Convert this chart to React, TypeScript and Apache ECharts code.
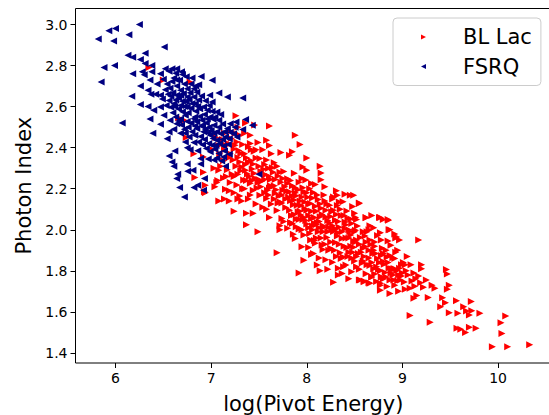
import React, { useEffect, useRef } from "react";
import * as echarts from "echarts";

const xTicks = [6, 7, 8, 9, 10];
const yTicks = [1.4, 1.6, 1.8, 2.0, 2.2, 2.4, 2.6, 2.8, 3.0];

const blLacOutliers = [
  [8.55,2.13],[8.5,2.08],[8.51,2.06],[8.52,2.05],[8.62,2.06],[8.68,2.07],[8.76,2.06],[8.8,2.05],[8.85,2.05],[8.66,2.02],[8.7,2.01],[8.65,2.0],[8.86,2.0],[8.92,1.98],[8.93,1.96],[8.97,1.95],[9.17,1.95],[8.77,1.985],[8.59,1.99],[8.61,1.97],[8.52,1.95],[8.66,1.95],[8.71,1.94],[8.78,1.95],[8.85,1.945],[8.59,1.91],[8.7,1.9],[8.95,1.9],[8.8,1.885],[9.05,1.87],[9.01,1.84],[9.03,1.83],[9.09,1.83],[9.2,1.83],[9.2,1.81],[8.91,1.81],[8.9,1.78],[9.12,1.79],[9.17,1.775],[8.99,1.775],[8.98,1.755],[8.87,1.755],[8.92,1.73],[8.78,1.77],[8.68,1.77],[8.55,1.755],[8.6,1.75],[8.66,1.74],[8.77,1.73],[8.77,1.706],[8.87,1.69],[8.96,1.7],[9.03,1.71],[9.08,1.715],[9.13,1.725],[9.22,1.72],[9.25,1.755],[9.31,1.73],[9.34,1.715],[9.46,1.807],[9.47,1.784],[9.49,1.73],[9.47,1.71],[9.12,1.666],[9.15,1.68],[9.27,1.67],[9.42,1.669],[9.45,1.645],[9.4,1.625],[9.565,1.654],[9.72,1.65],[9.64,1.625],[9.67,1.604],[9.725,1.606],[9.7,1.585],[9.49,1.596],[9.58,1.593],[9.81,1.593],[9.08,1.583],[9.29,1.55],[10.08,1.58],[10.03,1.547],[9.57,1.52],[9.61,1.515],[9.7,1.525],[9.77,1.52],[9.66,1.5],[10.04,1.495],[9.94,1.43],[10.1,1.43],[10.33,1.44],
  [7.61,2.505],[7.88,2.46],[7.93,2.416],[7.58,2.436],[7.61,2.41],[7.41,2.46],[7.73,2.376],[7.85,2.38],[7.82,2.363],[8.0,2.35],[8.14,2.31],[7.96,2.306],[8.0,2.29],[8.15,2.277],[8.15,2.244],[7.95,2.25],[8.05,2.225],[8.09,2.22],[8.19,2.21],[8.31,2.19],[8.4,2.173],[8.455,2.168],[8.49,2.168],[8.32,2.168],[8.55,2.128],[8.28,2.16],[8.62,2.058],[8.77,2.06],[8.855,2.047],[8.87,2.0],[8.94,1.965],[7.08,2.14],[7.14,2.15],[7.19,2.14],[7.28,2.15],[7.32,2.14],[7.41,2.17],[7.24,2.09],[7.37,2.08],[7.44,2.08],[7.37,2.024],[7.49,1.99],[7.61,2.06],[7.58,2.1],[7.74,2.055],[7.69,1.888],[7.72,2.02],[7.72,2.0],[7.88,1.957],[7.95,1.917],[7.97,1.852],[7.92,1.79],[8.11,1.828],[8.14,1.8],[8.28,1.744],[8.37,1.787],[8.56,1.755],[8.6,1.747],[8.65,1.742],[8.77,1.74],[8.68,1.77],[8.78,1.77],[8.92,1.81],[8.91,1.755],[8.52,1.82],[8.385,1.82],[8.07,1.885],
  [6.92,2.28],[7.03,2.3],[7.06,2.23],[7.04,2.21],[6.94,2.217],[6.94,2.18],[6.35,2.79],[6.5,2.73],[6.78,2.72],[7.26,2.555],[7.455,2.51],[6.66,2.546],[6.72,2.533],[6.74,2.45],[6.82,2.37],[6.92,2.355],[6.83,2.255],[6.93,2.185],[7.07,2.24],[7.08,2.29],
];

const blLacDense = [
  [7.12,2.44],[7.16,2.41],[7.21,2.445],[7.24,2.393],[7.27,2.428],[7.31,2.372],[7.33,2.415],[7.37,2.351],[7.39,2.404],[7.42,2.336],[7.45,2.382],[7.49,2.425],[7.51,2.347],[7.54,2.39],[7.56,2.318],[7.63,2.37],[7.66,2.326],[7.09,2.37],[7.13,2.336],[7.17,2.293],[7.19,2.352],[7.22,2.27],[7.26,2.31],[7.28,2.352],[7.31,2.287],[7.34,2.243],[7.36,2.318],[7.38,2.272],[7.41,2.227],[7.43,2.296],[7.46,2.251],[7.48,2.204],[7.52,2.284],[7.53,2.236],[7.57,2.268],[7.59,2.193],[7.62,2.245],[7.64,2.302],[7.66,2.214],[7.7,2.262],[7.71,2.166],[7.73,2.231],[7.76,2.284],[7.79,2.188],[7.8,2.249],[7.83,2.142],[7.85,2.214],[7.87,2.276],[7.89,2.166],[7.92,2.232],[7.94,2.118],[7.97,2.184],[7.99,2.242],
  [7.13,2.252],[7.15,2.197],[7.2,2.23],[7.24,2.18],[7.27,2.218],[7.3,2.165],[7.35,2.2],[7.39,2.15],[7.44,2.192],[7.47,2.126],[7.51,2.168],[7.54,2.11],[7.58,2.152],[7.61,2.204],[7.63,2.126],[7.67,2.178],[7.69,2.094],[7.72,2.135],[7.75,2.192],[7.78,2.108],[7.81,2.158],[7.84,2.07],[7.86,2.122],[7.88,2.18],[7.91,2.088],[7.93,2.14],[7.96,2.05],[7.98,2.104],[8.01,2.158],[8.02,2.07],[8.04,2.128],[8.06,2.018],[8.07,2.182],[8.1,2.09],[8.12,2.147],[8.13,2.04],[8.15,2.105],[8.18,2.17],[8.2,2.062],[8.21,2.125],[8.23,2.012],[8.26,2.088],[8.27,2.15],[8.3,2.046],[8.32,2.118],[8.33,1.985],[8.36,2.07],[8.38,2.136],[8.41,2.024],[8.42,2.091],[8.44,1.96],[8.46,2.052],[8.48,2.113],[8.51,1.998],
  [7.76,2.04],[7.8,2.008],[7.83,2.036],[7.86,1.978],[7.89,2.052],[7.92,2.004],[7.94,2.072],[7.97,1.974],[8.0,2.028],[8.03,1.982],[8.05,2.054],[8.08,1.948],[8.1,2.026],[8.12,1.99],[8.14,2.064],[8.16,1.926],[8.18,2.012],[8.21,1.962],[8.24,2.034],[8.25,1.91],[8.28,1.992],[8.3,1.938],[8.34,2.012],[8.35,1.888],[8.37,1.958],[8.4,2.038],[8.42,1.914],[8.45,1.992],[8.47,1.862],[8.49,1.944],[8.53,2.018],[8.54,1.884],[8.56,1.962],[8.58,1.838],[8.61,1.918],[8.63,1.99],[8.65,1.862],[8.67,1.928],[8.7,1.81],[8.72,1.884],[8.74,1.972],[8.76,1.84],[8.79,1.91],[8.82,1.792],[8.84,1.868],[8.88,1.925],
  [8.02,1.914],[8.05,1.88],[8.09,1.934],[8.13,1.862],[8.17,1.904],[8.2,1.854],[8.23,1.9],[8.27,1.842],[8.31,1.87],[8.33,1.812],[8.38,1.868],[8.41,1.828],[8.44,1.89],[8.47,1.795],[8.5,1.848],[8.55,1.808],[8.59,1.848],[8.62,1.786],[8.66,1.826],[8.71,1.785],[8.75,1.806],[8.81,1.832],[8.86,1.814],[8.9,1.864],[8.93,1.89],[8.97,1.812],[9.0,1.79],[9.06,1.78],[9.1,1.75],[9.14,1.762],[9.19,1.742],[8.95,1.752],[9.02,1.746],[8.84,1.724],[8.73,1.748],[8.44,1.762],[8.33,1.78],[8.22,1.808],
];

const blLacFill = [
  [7.14,2.39],[7.18,2.42],[7.2,2.37],[7.23,2.34],[7.25,2.412],[7.29,2.386],[7.3,2.33],[7.32,2.306],[7.35,2.37],[7.36,2.29],[7.39,2.33],[7.4,2.26],[7.42,2.39],[7.44,2.32],[7.45,2.275],[7.47,2.35],[7.5,2.31],[7.5,2.245],[7.52,2.21],[7.55,2.295],[7.56,2.245],[7.58,2.34],[7.6,2.3],[7.61,2.26],[7.62,2.215],[7.65,2.28],[7.67,2.245],[7.68,2.195],[7.69,2.31],[7.72,2.28],[7.74,2.17],[7.75,2.25],[7.77,2.21],[7.78,2.15],[7.8,2.225],[7.82,2.185],[7.83,2.24],[7.85,2.165],[7.87,2.145],[7.88,2.205],[7.9,2.12],[7.91,2.195],[7.93,2.09],[7.95,2.16],[7.96,2.205],[7.98,2.135],[8.0,2.18],[8.0,2.095],[8.02,2.125],[8.03,2.2],[8.05,2.09],[8.06,2.155],[8.08,2.06],[8.09,2.115],[8.11,2.17],[8.11,2.035],[8.14,2.125],[8.16,2.075],[8.17,2.02],[8.19,2.14],[8.2,2.095],[8.22,2.045],[8.24,2.12],[8.25,2.065],[8.27,2.02],[8.28,2.095],[8.3,2.005],[8.31,2.075],[8.33,2.04],[8.34,2.135],[8.35,2.1],[8.37,1.99],[8.39,2.07],[8.4,2.005],[8.43,2.055],[8.44,2.0],[8.46,1.975],[8.47,2.03],[8.49,1.915],[8.5,1.99],
  [7.82,2.095],[7.85,2.03],[7.87,2.075],[7.89,2.015],[7.92,2.05],[7.95,2.0],[7.97,2.06],[7.99,2.045],[8.02,2.01],[8.04,1.95],[8.06,2.0],[8.08,2.03],[8.1,1.96],[8.13,2.01],[8.15,1.96],[8.17,1.99],[8.19,1.93],[8.22,1.99],[8.25,1.94],[8.26,2.0],[8.29,1.9],[8.32,1.97],[8.34,1.93],[8.36,1.86],[8.39,1.92],[8.41,1.96],[8.43,1.87],[8.46,1.92],[8.48,1.89],[8.51,1.94],[8.52,1.87],[8.55,1.93],[8.57,1.89],[8.6,1.87],[8.62,1.94],[8.63,1.83],[8.65,1.9],[8.68,1.84],[8.69,1.885],[8.71,1.92],[8.73,1.82],[8.74,1.86],[8.77,1.8],[8.78,1.875],[8.8,1.845],[8.83,1.9],[8.85,1.84],[8.87,1.875],[8.89,1.81],[8.92,1.86],[8.94,1.8],[8.96,1.78],[8.99,1.83],[9.04,1.8],[8.88,1.79],[8.83,1.77],[8.8,1.76],
  [7.74,2.13],[7.7,2.13],[7.66,2.15],[7.6,2.17],[7.56,2.18],[7.49,2.23],[7.43,2.24],[7.37,2.24],[7.33,2.2],[7.28,2.27],[7.24,2.26],[7.19,2.19],[7.16,2.26],[7.1,2.31],[7.08,2.41],[7.05,2.45],[7.02,2.39],[7.14,2.47],[7.2,2.48],[7.25,2.47],[7.3,2.46],[7.28,2.5],[7.35,2.47],[7.41,2.42],[7.47,2.39],[7.36,2.52],
];

const fsrqOutliers = [
  [5.82,2.93],[5.93,2.97],[6.0,2.98],[5.98,2.92],[6.25,3.0],[6.14,2.95],[6.51,2.89],[6.13,2.85],[6.18,2.84],[6.31,2.86],[6.26,2.83],[6.31,2.81],[6.38,2.8],[5.88,2.79],[5.99,2.8],[5.85,2.72],[6.18,2.76],[6.28,2.77],[6.3,2.755],[6.38,2.77],[6.36,2.73],[6.26,2.7],[6.17,2.65],[6.34,2.68],[6.37,2.66],[6.42,2.66],[6.26,2.61],[6.34,2.6],[6.07,2.52],[6.39,2.47],[6.36,2.54],
  [6.56,2.36],[6.62,2.384],[6.59,2.33],[6.61,2.31],[6.65,2.27],[6.64,2.25],[6.67,2.206],[6.72,2.16],[6.75,2.32],[6.755,2.285],[6.81,2.29],[6.82,2.206],[6.86,2.217],[6.93,2.25],[6.92,2.193],[6.89,2.347],[6.89,2.32],[7.03,2.34],[7.15,2.31],[7.13,2.355],[6.54,2.444],[6.47,2.514],[6.56,2.476],[6.68,2.47],[6.73,2.428],[6.75,2.4],[6.78,2.39],[7.33,2.642],[7.17,2.647],[7.08,2.666],[6.985,2.655],[7.01,2.728],[6.895,2.747],[6.8,2.74],[7.36,2.537],[7.43,2.509],[7.33,2.488],[7.26,2.525],[7.2,2.517],[7.5,2.27],
];

const fsrqDense = [
  [6.52,2.785],[6.59,2.785],[6.64,2.785],[6.47,2.76],[6.7,2.757],[6.61,2.74],[6.64,2.73],[6.435,2.71],[6.54,2.71],[6.57,2.69],[6.64,2.7],[6.68,2.68],[6.75,2.687],[6.82,2.687],[6.87,2.707],[6.85,2.67],[6.75,2.647],[6.82,2.647],[6.47,2.655],[6.56,2.63],[6.64,2.655],[6.61,2.614],[6.68,2.606],[6.75,2.598],[6.835,2.614],[6.92,2.598],[7.01,2.622],[6.96,2.582],[7.06,2.574],[6.47,2.598],[6.4,2.582],[6.505,2.558],[6.57,2.533],[6.64,2.517],[6.73,2.558],[6.82,2.541],[6.905,2.533],[6.99,2.55],[7.08,2.533],[7.03,2.509],[6.85,2.493],[6.92,2.477],[6.8,2.477],[6.99,2.46],[7.06,2.477],[7.17,2.493],[7.25,2.5],[7.235,2.468],[7.15,2.452],[7.06,2.436],[6.975,2.42],[6.87,2.428],
  [6.56,2.772],[6.63,2.762],[6.5,2.733],[6.59,2.722],[6.67,2.728],[6.72,2.71],[6.78,2.668],[6.71,2.664],[6.66,2.642],[6.6,2.668],[6.52,2.682],[6.49,2.637],[6.53,2.606],[6.58,2.597],[6.63,2.632],[6.7,2.626],[6.74,2.624],[6.8,2.615],[6.87,2.632],[6.9,2.652],[6.94,2.628],[6.98,2.606],[6.66,2.588],[6.7,2.575],[6.76,2.57],[6.79,2.592],[6.84,2.578],[6.88,2.59],[6.93,2.562],[7.01,2.578],[7.04,2.548],[6.6,2.57],[6.63,2.55],[6.68,2.54],[6.75,2.528],[6.79,2.52],[6.85,2.526],[6.88,2.552],[6.95,2.52],[6.98,2.5],[7.02,2.538],[7.1,2.562],[6.61,2.49],[6.69,2.51],[6.72,2.49],[6.76,2.5],[6.83,2.505],[6.9,2.504],[6.94,2.49],[7.0,2.484],[7.08,2.5],[7.12,2.515],[7.14,2.477],[7.2,2.475],[6.77,2.452],[6.83,2.46],[6.89,2.455],[6.93,2.44],[7.02,2.445],[7.1,2.468],[7.19,2.444],[7.27,2.452],[6.82,2.425],[6.91,2.414],[6.95,2.396],[7.01,2.412],[7.09,2.42],[7.13,2.408],[7.18,2.415],[6.86,2.385],[6.99,2.38],[7.04,2.392],[7.08,2.372],[7.14,2.384],[7.19,2.368],[6.97,2.345],[7.06,2.35],[7.11,2.335],
  [6.69,2.77],[6.74,2.745],[6.79,2.71],[6.84,2.7],[6.68,2.655],[6.77,2.635],[6.62,2.6],[6.72,2.6],[6.83,2.55],[6.91,2.51],[7.03,2.47],[6.66,2.53],[6.73,2.47],[6.86,2.6],[6.96,2.54],[6.55,2.66],[6.58,2.65],[6.97,2.47],[7.05,2.41],[7.12,2.44],
];

const blLacPoints = [...blLacOutliers, ...blLacDense, ...blLacFill];
const fsrqPoints = [...fsrqOutliers, ...fsrqDense];

const FONT = "DejaVu Sans";

export default function App() {
  const ref = useRef<HTMLDivElement>(null);
  useEffect(() => {
    document.body.style.margin = "0";
    const chart = echarts.init(ref.current!, undefined, { renderer: "svg", width: 549, height: 415 });
    chart.setOption({
      animation: false,
      backgroundColor: "#ffffff",
      grid: {
        show: true,
        left: 75.5,
        top: 8.5,
        right: -2,
        bottom: 52,
        outerBoundsMode: "none",
        borderColor: "#000000",
        borderWidth: 1,
        backgroundColor: "transparent",
      },
      xAxis: {
        type: "value",
        min: 5.582,
        max: 10.553,
        name: "log(Pivot Energy)",
        nameLocation: "middle",
        nameGap: 30,
        nameTextStyle: { fontFamily: FONT, fontSize: 21, color: "#000" },
        splitLine: { show: false },
        axisLine: { show: false },
        axisTick: { show: true, length: 5, customValues: xTicks, lineStyle: { color: "#000" } },
        axisLabel: {
          customValues: xTicks,
          fontFamily: FONT,
          fontSize: 14,
          color: "#000",
          margin: 8,
          formatter: (v: number) => String(v),
        },
      },
      yAxis: {
        type: "value",
        min: 1.351,
        max: 3.078,
        name: "Photon Index",
        nameLocation: "middle",
        nameGap: 41,
        nameTextStyle: { fontFamily: FONT, fontSize: 21, color: "#000" },
        splitLine: { show: false },
        axisLine: { show: false },
        axisTick: { show: true, length: 5, customValues: yTicks, lineStyle: { color: "#000" } },
        axisLabel: {
          customValues: yTicks,
          fontFamily: FONT,
          fontSize: 14,
          color: "#000",
          margin: 8,
          formatter: (v: number) => v.toFixed(1),
        },
      },
      legend: {
        left: 393,
        top: 18,
        orient: "vertical",
        padding: [8.5, 9, 8.5, 28],
        itemWidth: 5,
        itemHeight: 6,
        itemGap: 8.5,
        backgroundColor: "rgba(255,255,255,0.8)",
        borderColor: "#cccccc",
        borderWidth: 1,
        borderRadius: 4,
        textStyle: { fontFamily: FONT, fontSize: 21, color: "#000", padding: [0, 0, 0, 32] },
        data: [
          { name: "BL Lac", icon: "path://M0,0L10,5L0,10Z" },
          { name: "FSRQ", icon: "path://M10,0L0,5L10,10Z" },
        ],
      },
      series: [
        {
          name: "BL Lac",
          type: "scatter",
          symbol: "triangle",
          symbolSize: 7,
          symbolRotate: -90,
          itemStyle: { color: "#ff0000", opacity: 1 },
          data: blLacPoints,
        },
        {
          name: "FSRQ",
          type: "scatter",
          symbol: "triangle",
          symbolSize: 7,
          symbolRotate: 90,
          itemStyle: { color: "#000080", opacity: 1 },
          data: fsrqPoints,
        },
      ],
    });
    return () => chart.dispose();
  }, []);
  return <div ref={ref} style={{ width: 549, height: 415 }} />;
}
